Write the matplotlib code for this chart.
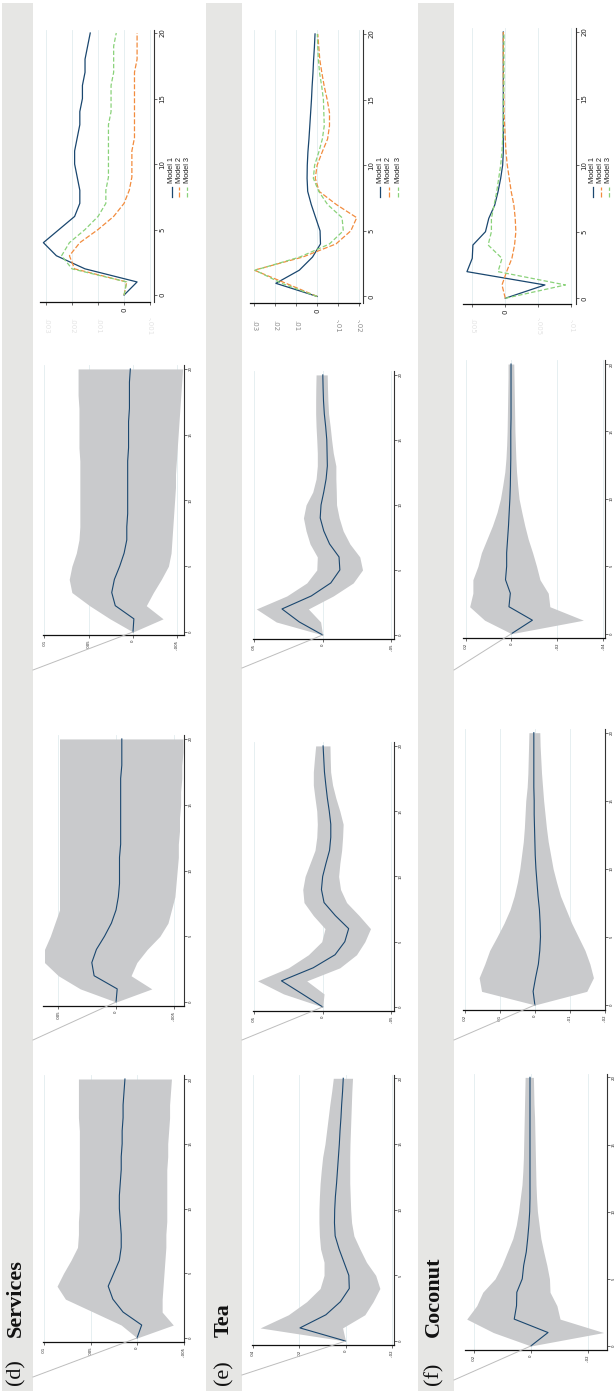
import matplotlib
matplotlib.use("Agg")
import matplotlib.pyplot as plt
from matplotlib.lines import Line2D
from matplotlib.patches import Rectangle
from matplotlib.transforms import blended_transform_factory

W, H = 616, 1391

horizon = list(range(21))
horizon_ticks = [0, 5, 10, 15, 20]
model_names = ["Model 1", "Model 2", "Model 3"]

# Services: impulse responses and bands
svc_m1 = [0, -0.0005, 0.0015, 0.0026, 0.0031, 0.0025, 0.0019, 0.0017, 0.0017, 0.0018, 0.0019,
          0.0019, 0.0018, 0.0017, 0.0017, 0.0016, 0.0016, 0.0015, 0.0015, 0.0014, 0.0013]
svc_m1_hi = [0, 0.0017, 0.0047, 0.0077, 0.0086, 0.0079, 0.0071, 0.0064, 0.0063, 0.0063, 0.0062,
             0.0062, 0.0062, 0.0062, 0.0062, 0.0062, 0.0062, 0.0063, 0.0063, 0.0063, 0.0063]
svc_m1_lo = [0, -0.0039, -0.0027, -0.0027, -0.0028, -0.0029, -0.0030, -0.0031, -0.0031, -0.0032, -0.0032,
             -0.0032, -0.0032, -0.0032, -0.0033, -0.0033, -0.0034, -0.0035, -0.0035, -0.0036, -0.0037]
svc_m2 = [0, -0.0001, 0.0019, 0.0021, 0.0017, 0.0010, 0.0004, 0.0000, -0.0002, -0.0003, -0.0003,
          -0.0003, -0.0004, -0.0004, -0.0004, -0.0004, -0.0004, -0.0004, -0.0005, -0.0005, -0.0005]
svc_m2_hi = [0, 0.0031, 0.0050, 0.0062, 0.0062, 0.0057, 0.0053, 0.0049, 0.0049, 0.0049, 0.0049,
             0.0049, 0.0049, 0.0049, 0.0049, 0.0049, 0.0049, 0.0049, 0.0049, 0.0049, 0.0049]
svc_m2_lo = [0, -0.0031, -0.0013, -0.0018, -0.0027, -0.0038, -0.0045, -0.0048, -0.0051, -0.0052, -0.0053,
             -0.0054, -0.0054, -0.0055, -0.0055, -0.0056, -0.0056, -0.0057, -0.0057, -0.0058, -0.0058]
svc_m3 = [0, -0.0001, 0.0020, 0.0024, 0.0021, 0.0015, 0.0010, 0.0007, 0.0007, 0.0006, 0.0006,
          0.0006, 0.0006, 0.0006, 0.0005, 0.0005, 0.0005, 0.0004, 0.0004, 0.0004, 0.0003]
svc_m3_hi = [0, 0.0026, 0.0049, 0.0069, 0.0072, 0.0069, 0.0064, 0.0061, 0.0060, 0.0060, 0.0060,
             0.0060, 0.0060, 0.0060, 0.0061, 0.0061, 0.0061, 0.0061, 0.0062, 0.0062, 0.0062]
svc_m3_lo = [0, -0.0034, -0.0015, -0.0023, -0.0032, -0.0040, -0.0043, -0.0044, -0.0045, -0.0046, -0.0047,
             -0.0048, -0.0048, -0.0049, -0.0050, -0.0051, -0.0052, -0.0053, -0.0054, -0.0055, -0.0056]

# Tea
tea_m1 = [0, 0.0197, 0.0085, 0.0022, -0.0016, -0.0014, 0.0007, 0.0028, 0.0045, 0.0048, 0.0047,
          0.0044, 0.0039, 0.0035, 0.0031, 0.0027, 0.0024, 0.0020, 0.0017, 0.0013, 0.0010]
tea_m1_hi = [0, 0.0369, 0.0247, 0.0168, 0.0110, 0.0093, 0.0093, 0.0108, 0.0113, 0.0115, 0.0115,
             0.0113, 0.0110, 0.0105, 0.0099, 0.0089, 0.0082, 0.0075, 0.0068, 0.0060, 0.0053]
tea_m1_lo = [0, 0.0013, -0.0083, -0.0119, -0.0148, -0.0130, -0.0090, -0.0062, -0.0036, -0.0026, -0.0022,
             -0.0020, -0.0018, -0.0018, -0.0018, -0.0019, -0.0021, -0.0023, -0.0025, -0.0027, -0.0030]
tea_m2 = [0, 0.0149, 0.0300, 0.0069, -0.0090, -0.0161, -0.0189, -0.0092, -0.0010, 0.0009, 0.0000,
          -0.0024, -0.0050, -0.0059, -0.0059, -0.0048, -0.0034, -0.0023, -0.0013, -0.0008, -0.0003]
tea_m2_hi = [0, 0.0285, 0.0474, 0.0249, 0.0104, 0.0007, -0.0017, 0.0068, 0.0136, 0.0145, 0.0128,
             0.0092, 0.0056, 0.0043, 0.0039, 0.0043, 0.0056, 0.0068, 0.0068, 0.0060, 0.0051]
tea_m2_lo = [0, -0.0010, 0.0116, -0.0125, -0.0246, -0.0307, -0.0348, -0.0265, -0.0174, -0.0130, -0.0116,
             -0.0125, -0.0138, -0.0145, -0.0149, -0.0125, -0.0096, -0.0072, -0.0058, -0.0055, -0.0053]
tea_m3 = [0, 0.0170, 0.0296, 0.0083, -0.0059, -0.0125, -0.0119, -0.0050, -0.0008, 0.0018, 0.0012,
          -0.0008, -0.0025, -0.0034, -0.0032, -0.0030, -0.0022, -0.0012, -0.0006, -0.0003, -0.0001]
tea_m3_hi = [0, 0.0338, 0.0483, 0.0261, 0.0116, 0.0043, 0.0039, 0.0092, 0.0121, 0.0140, 0.0121,
             0.0072, 0.0048, 0.0039, 0.0039, 0.0043, 0.0048, 0.0051, 0.0051, 0.0050, 0.0048]
tea_m3_lo = [0, 0.0015, 0.0104, -0.0077, -0.0222, -0.0290, -0.0270, -0.0198, -0.0149, -0.0120, -0.0101,
             -0.0099, -0.0096, -0.0096, -0.0077, -0.0065, -0.0055, -0.0043, -0.0038, -0.0035, -0.0033]

# Coconut
coco_m1 = [0, -0.0060, 0.0058, 0.0050, 0.0049, 0.0030, 0.0025, 0.0016, 0.0011, 0.0007, 0.0004,
           0.0003, 0.0003, 0.0003, 0.0003, 0.0003, 0.0003, 0.0003, 0.0003, 0.0003, 0.0003]
coco_m1_hi = [0, 0.0131, 0.0224, 0.0189, 0.0168, 0.0125, 0.0101, 0.0082, 0.0063, 0.0051, 0.0043,
              0.0037, 0.0031, 0.0028, 0.0026, 0.0025, 0.0024, 0.0023, 0.0022, 0.0021, 0.0020]
coco_m1_lo = [0, -0.0254, -0.0102, -0.0091, -0.0067, -0.0065, -0.0056, -0.0045, -0.0035, -0.0029, -0.0023,
              -0.0020, -0.0018, -0.0017, -0.0016, -0.0015, -0.0014, -0.0013, -0.0011, -0.0010, -0.0009]
coco_m2 = [0, 0.0005, -0.0002, -0.0010, -0.0014, -0.0016, -0.0015, -0.0013, -0.0009, -0.0006, -0.0003,
           -0.0001, 0.0000, 0.0001, 0.0002, 0.0002, 0.0003, 0.0003, 0.0003, 0.0003, 0.0003]
coco_m2_hi = [0, 0.0152, 0.0159, 0.0143, 0.0129, 0.0108, 0.0088, 0.0071, 0.0059, 0.0050, 0.0043,
              0.0038, 0.0033, 0.0030, 0.0028, 0.0026, 0.0022, 0.0020, 0.0019, 0.0018, 0.0017]
coco_m2_lo = [0, -0.0148, -0.0167, -0.0157, -0.0143, -0.0124, -0.0105, -0.0089, -0.0073, -0.0062, -0.0052,
              -0.0045, -0.0038, -0.0033, -0.0029, -0.0025, -0.0022, -0.0019, -0.0017, -0.0015, -0.0014]
coco_m3 = [0, -0.0091, 0.0011, 0.0005, 0.0026, 0.0021, 0.0021, 0.0017, 0.0013, 0.0010, 0.0007,
           0.0005, 0.0004, 0.0003, 0.0003, 0.0003, 0.0002, 0.0002, 0.0002, 0.0002, 0.0002]
coco_m3_hi = [0, 0.0117, 0.0182, 0.0168, 0.0168, 0.0146, 0.0131, 0.0107, 0.0083, 0.0063, 0.0048,
              0.0038, 0.0029, 0.0024, 0.0021, 0.0019, 0.0018, 0.0017, 0.0016, 0.0015, 0.0015]
coco_m3_lo = [0, -0.0313, -0.0167, -0.0160, -0.0124, -0.0109, -0.0092, -0.0073, -0.0058, -0.0045, -0.0033,
              -0.0027, -0.0022, -0.0019, -0.0017, -0.0015, -0.0014, -0.0013, -0.0012, -0.0011, -0.0010]

# value-axis ticks of each panel
svc_ticks = [[0.01, 0.005, 0, -0.005], [0.005, 0, -0.005], [0.01, 0.005, 0, -0.005],
             [0.003, 0.002, 0.001, 0, -0.001]]
tea_ticks = [[0.04, 0.02, 0, -0.02], [0.05, 0, -0.05], [0.05, 0, -0.05],
             [0.03, 0.02, 0.01, 0, -0.01, -0.02]]
coco_ticks = [[0.02, 0, -0.02], [0.02, 0.01, 0, -0.01, -0.02], [0.02, 0, -0.02, -0.04],
              [0.005, 0, -0.005, -0.01]]

NAVY = "#1a476f"
ORANGE = "#f28c3e"
GREEN = "#8ad27a"
BAND = "#c9cacc"
GRID = "#e2ecef"
STRIP = "#e6e6e4"
DIAG = "#bdbdbd"


def fmt(v):
    s = f"{v:g}"
    return s.replace("0.", ".", 1)


def px(x, y):
    return x / W, 1 - y / H


fig = plt.figure(figsize=(W / 100, H / 100), dpi=100)
fig.patch.set_facecolor("white")

groups = [
    dict(tag="(d)", name="Services", strip=(2, 33), text_x=16,
         models=[(svc_m1, svc_m1_lo, svc_m1_hi), (svc_m2, svc_m2_lo, svc_m2_hi), (svc_m3, svc_m3_lo, svc_m3_hi)],
         ticks=svc_ticks,
         rects=[(43, 1075, 184, 1342), (43, 735, 184, 1006), (43, 365, 184, 635), (40, 30, 154, 302)],
         xlims=[(0.01011, -0.00505), (0.00633, -0.00589), (0.01016, -0.00576), (0.00323, -0.00115)],
         ylims=[(-0.31, 20.31), (-0.30, 20.30), (-0.23, 20.30), (-0.53, 20.23)],
         bound=(0.00323, -0.001), diag_y=[1377, 1040, 670], leg_x=[171.7, 179.3, 187.3],
         ghost=["#e4e4e4"] * 6),
    dict(tag="(e)", name="Tea", strip=(206, 242), text_x=224,
         models=[(tea_m1, tea_m1_lo, tea_m1_hi), (tea_m2, tea_m2_lo, tea_m2_hi), (tea_m3, tea_m3_lo, tea_m3_hi)],
         ticks=tea_ticks,
         rects=[(252, 1075, 394, 1345), (253, 742, 394, 1011), (253, 371, 394, 639), (250, 30, 363, 303)],
         xlims=[(0.0404, -0.0209), (0.0507, -0.0519), (0.0507, -0.0519), (0.03205, -0.0219)],
         ylims=[(-0.30, 20.25), (-0.31, 20.30), (-0.31, 20.30), (-0.50, 20.30)],
         bound=(0.032, -0.0207), diag_y=[1375, 1040, 668], leg_x=[380, 389, 398],
         ghost=["#8c8c8c"] * 6),
    dict(tag="(f)", name="Coconut", strip=(418, 454), text_x=434,
         models=[(coco_m1, coco_m1_lo, coco_m1_hi), (coco_m2, coco_m2_lo, coco_m2_hi),
                 (coco_m3, coco_m3_lo, coco_m3_hi)],
         ticks=coco_ticks,
         rects=[(465, 1074, 607, 1350), (463, 729, 605, 1010), (463, 360, 605, 638), (463, 28, 576, 304)],
         xlims=[(0.023, -0.0266), (0.0205, -0.02), (0.0211, -0.0407), (0.0064, -0.0107)],
         ylims=[(-0.30, 20.25), (-0.37, 20.27), (-0.32, 20.30), (-0.43, 20.30)],
         bound=(0.0064, -0.01), diag_y=[1380, 1040, 670], leg_x=[592.7, 600.7, 609],
         ghost=["#e4e4e4", "#e4e4e4", "#e4e4e4", "#8c8c8c"]),
]

styles = [dict(color=NAVY, ls="-"), dict(color=ORANGE, ls=(0, (4, 1.6))), dict(color=GREEN, ls=(0, (3.5, 1.8)))]


def base_axes(rect, xlim, ylim, ticks, big):
    x0, y0, x1, y1 = rect
    ax = fig.add_axes([x0 / W, 1 - y1 / H, (x1 - x0) / W, (y1 - y0) / H])
    ax.patch.set_alpha(0)
    ax.set_xlim(*xlim)
    ax.set_ylim(*ylim)
    for s in ("top", "left"):
        ax.spines[s].set_visible(False)
    ax.spines["bottom"].set_linewidth(0.9)
    ax.spines["bottom"].set_color("#111111")
    ax.spines["right"].set_linewidth(0.8)
    ax.spines["right"].set_color("#333333")
    ax.yaxis.tick_right()
    ax.set_yticks(horizon_ticks)
    ax.set_xticks(ticks)
    size = 5.0 if big else 2.8
    ax.tick_params(axis="both", length=2.5 if big else 2, width=0.5, labelsize=size,
                   pad=1.5, colors="#333333", labelcolor="#222222")
    ax.set_yticklabels([str(t) for t in horizon_ticks], rotation=90, va="center")
    for v in ticks:
        ax.axvline(v, color=GRID, lw=0.6, zorder=0)
    return ax


for g in groups:
    # row header strip with panel letter and crop name
    sx0, sx1 = g["strip"]
    fig.add_artist(Rectangle((sx0 / W, 0), (sx1 - sx0) / W, 1 - 3 / H, transform=fig.transFigure,
                             facecolor=STRIP, edgecolor="none", zorder=0))
    fig.text(g["text_x"] / W, 1 - 1385 / H, g["tag"], rotation=90, ha="center", va="bottom",
             family="Liberation Serif", fontsize=16, color="#111111")
    fig.text(g["text_x"] / W, 1 - 1337 / H, g["name"], rotation=90, ha="center", va="bottom",
             family="Liberation Serif", fontweight="bold", fontsize=16, color="#111111")

    # one panel per model with its confidence band
    for i in range(3):
        ax = base_axes(g["rects"][i], g["xlims"][i], g["ylims"][i], g["ticks"][i], False)
        ax.set_xticklabels([fmt(v) for v in g["ticks"][i]], rotation=90)
        mid, lo, hi = g["models"][i]
        ax.fill_betweenx(horizon, lo, hi, color=BAND, lw=0, zorder=1)
        ax.plot(mid, horizon, color=NAVY, lw=0.8, zorder=3)

        # connector from the header strip to the shock origin
        ox, oy = fig.transFigure.inverted().transform(ax.transData.transform((0, 0)))
        sx, sy = px(sx1, g["diag_y"][i])
        fig.add_artist(Line2D([sx, ox], [sy, oy], transform=fig.transFigure, color=DIAG, lw=0.7))

    # comparison of the three point estimates
    ticks = g["ticks"][3]
    ax = base_axes(g["rects"][3], g["xlims"][3], g["ylims"][3], ticks, True)
    ax.spines["bottom"].set_bounds(*g["bound"])
    ax.set_xticklabels(["0" if v == 0 else "" for v in ticks], rotation=90)
    for (mid, _, _), st in zip(g["models"], styles):
        ax.plot(mid, horizon, color=st["color"], ls=st["ls"], lw=0.9, zorder=3)
    tr = blended_transform_factory(ax.transData, fig.transFigure)
    nz = [v for v in ticks if v != 0]
    for v, c in zip(nz, g["ghost"]):
        ax.text(v, 1 - 326 / H, fmt(v), transform=tr, rotation=270, ha="center", va="center",
                fontsize=5.0, color=c)

    # legend placed below the horizon axis
    for lx, lab, st in zip(g["leg_x"], model_names, styles):
        x, y_top = px(lx, 187)
        _, y_bot = px(lx, 197)
        fig.add_artist(Line2D([x, x], [y_bot, y_top], transform=fig.transFigure,
                              color=st["color"], ls=st["ls"], lw=0.9))
        fig.text(x, 1 - 183 / H, lab, rotation=90, ha="center", va="bottom", fontsize=5.3,
                 color="#222222", family="Liberation Sans")

fig.savefig("out.png", dpi=100)
